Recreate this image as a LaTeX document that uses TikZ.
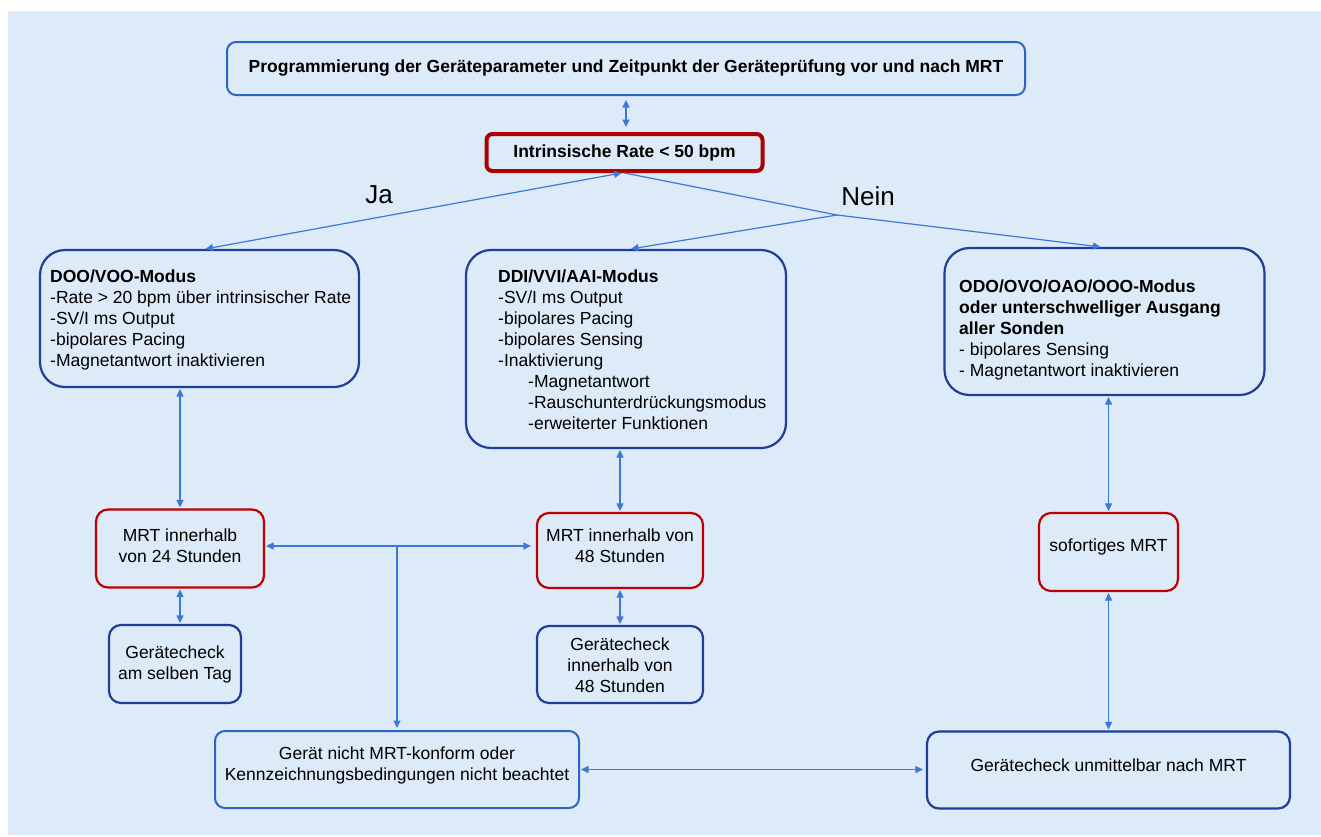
\documentclass[tikz,border=0pt]{standalone}
\usepackage{fontspec}
\setmainfont{Liberation Sans}
\usetikzlibrary{arrows.meta}
\definecolor{panel}{HTML}{DDEAF7}
\definecolor{lineblue}{HTML}{3C78D8}
\definecolor{darkblue}{HTML}{1F3D99}
\definecolor{midblue}{HTML}{2F63C8}
\definecolor{boxred}{HTML}{C00000}
\tikzset{
  box/.style={draw, rectangle, line width=2.2pt, inner sep=0pt,
    font=\fontsize{17.5}{21}\selectfont, align=center},
  bluebox/.style={box, draw=darkblue, rounded corners=12pt},
  bigbox/.style={box, draw=darkblue, rounded corners=25pt, align=left},
  redbox/.style={box, draw=boxred, rounded corners=12pt},
  lightbox/.style={box, draw=midblue, line width=2pt, rounded corners=10pt},
  txt/.style={inner sep=0pt, font=\fontsize{17.5}{21}\selectfont, align=center},
  ltxt/.style={txt, align=left, anchor=west},
  conn/.style={draw=lineblue, line width=1.2pt, {Triangle[length=7.5pt,width=7pt]}-{Triangle[length=7.5pt,width=7pt]}},
  oneway/.style={draw=lineblue, line width=1.2pt, -{Triangle[length=7.5pt,width=7pt]}},
  plainline/.style={draw=lineblue, line width=1.2pt},
  answer/.style={font=\fontsize{26}{30}\selectfont, inner sep=0pt}
}
\begin{document}
\begin{tikzpicture}[x=1pt,y=-1pt]
\useasboundingbox (0,0) rectangle (1321,836);
\fill[white] (0,0) rectangle (1321,836);
\fill[panel] (8,11) rectangle (1321,835);

% boxes
\node[lightbox, rounded corners=9pt, minimum width=798pt, minimum height=53pt, font=\fontsize{17.5}{21}\selectfont\bfseries] (top) at (626,68.5)
  {Programmierung der Geräteparameter und Zeitpunkt der Geräteprüfung vor und nach MRT};

\node[box, draw=boxred!90!black, line width=4pt, rounded corners=6pt, minimum width=276pt, minimum height=37pt, font=\fontsize{17.5}{21}\selectfont\bfseries] (intr) at (624.5,152.5)
  {Intrinsische Rate < 50 bpm};

\node[answer] (ja) at (379,195) {Ja};
\node[answer] (nein) at (868,196) {Nein};

\node[bigbox, minimum width=319pt, minimum height=137pt] (doo) at (199.5,318.5) {};
\node[ltxt] (dooT) at (50,320)
  {\textbf{DOO/VOO-Modus}\\-Rate > 20 bpm über intrinsischer Rate\\-SV/I ms Output\\-bipolares Pacing\\-Magnetantwort inaktivieren};

\node[bigbox, minimum width=320pt, minimum height=198pt] (ddi) at (626,349) {};
\node[ltxt] (ddiT) at (498,350)
  {\textbf{DDI/VVI/AAI-Modus}\\-SV/I ms Output\\-bipolares Pacing\\-bipolares Sensing\\-Inaktivierung\\\hspace*{30pt}-Magnetantwort\\\hspace*{30pt}-Rauschunterdrückungsmodus\\\hspace*{30pt}-erweiterter Funktionen};

\node[bigbox, minimum width=320pt, minimum height=147pt] (odo) at (1104.5,321.5) {};
\node[ltxt] (odoT) at (959,330)
  {\textbf{ODO/OVO/OAO/OOO-Modus}\\\textbf{oder unterschwelliger Ausgang}\\\textbf{aller Sonden}\\- bipolares Sensing\\- Magnetantwort inaktivieren};

\node[redbox, minimum width=168pt, minimum height=78pt] (mrt24) at (180,548.5) {};
\node[txt] (mrt24T) at (180,545.5) {MRT innerhalb\\von 24 Stunden};

\node[bluebox, minimum width=132pt, minimum height=78pt] (chk24) at (175,664) {};
\node[txt] (chk24T) at (175,664.5) {Gerätecheck\\am selben Tag};

\node[redbox, minimum width=166pt, minimum height=75pt] (mrt48) at (620,550.5) {};
\node[txt] (mrt48T) at (620,545.5) {MRT innerhalb von\\48 Stunden};

\node[bluebox, minimum width=166pt, minimum height=77pt] (chk48) at (620,664.5) {};
\node[txt] (chk48T) at (620,665) {Gerätecheck\\innerhalb von\\48 Stunden};

\node[redbox, minimum width=139pt, minimum height=78pt] (sof) at (1108.5,552) {};
\node[txt] (sofT) at (1108.5,547) {sofortiges MRT};

\node[lightbox, minimum width=364pt, minimum height=77pt] (ger) at (397,769.5) {};
\node[txt] (gerT) at (397,765.5) {Gerät nicht MRT-konform oder\\Kennzeichnungsbedingungen nicht beachtet};

\node[bluebox, minimum width=363pt, minimum height=77pt] (unm) at (1108.5,770) {};
\node[txt] (unmT) at (1108.5,765) {Gerätecheck unmittelbar nach MRT};

\coordinate (junc) at (837,215);

% connectors
\draw[conn, shorten <=4pt, shorten >=5pt] (top.south) -- (top.south |- intr.north);
\draw[conn] ([xshift=6pt]doo.north) -- ([xshift=-3pt]intr.south);
\draw[plainline] (intr.south) -- (junc);
\draw[oneway] (junc) -- ([xshift=-4pt]odo.north);
\draw[oneway] (junc) -- ([xshift=5pt]ddi.north);

\draw[conn, shorten <=1pt, shorten >=1pt] (mrt24.north |- doo.south) -- (mrt24.north);
\draw[conn, shorten <=1pt, shorten >=1pt] (mrt24.south) -- (mrt24.south |- chk24.north);
\draw[conn, shorten <=1pt, shorten >=1pt] (mrt48.north |- ddi.south) -- (mrt48.north);
\draw[conn, shorten <=1pt, shorten >=1pt] (mrt48.south) -- (mrt48.south |- chk48.north);
\draw[conn, shorten <=1pt, shorten >=5pt] ([yshift=2.5pt]mrt24.east) -- ([yshift=2.5pt]mrt24.east -| mrt48.west);
\coordinate (split) at ([yshift=2.5pt]mrt24.east -| ger.north);
\draw[oneway, shorten >=2pt] (split) -- (ger.north);
\draw[conn, shorten <=1pt, shorten >=3pt] (ger.east) -- (ger.east -| unm.west);
\draw[conn, shorten <=1pt, shorten >=1pt] (sof.north |- odo.south) -- (sof.north);
\draw[conn, shorten <=1pt, shorten >=1pt] (sof.south) -- (sof.south |- unm.north);
\end{tikzpicture}
\end{document}
